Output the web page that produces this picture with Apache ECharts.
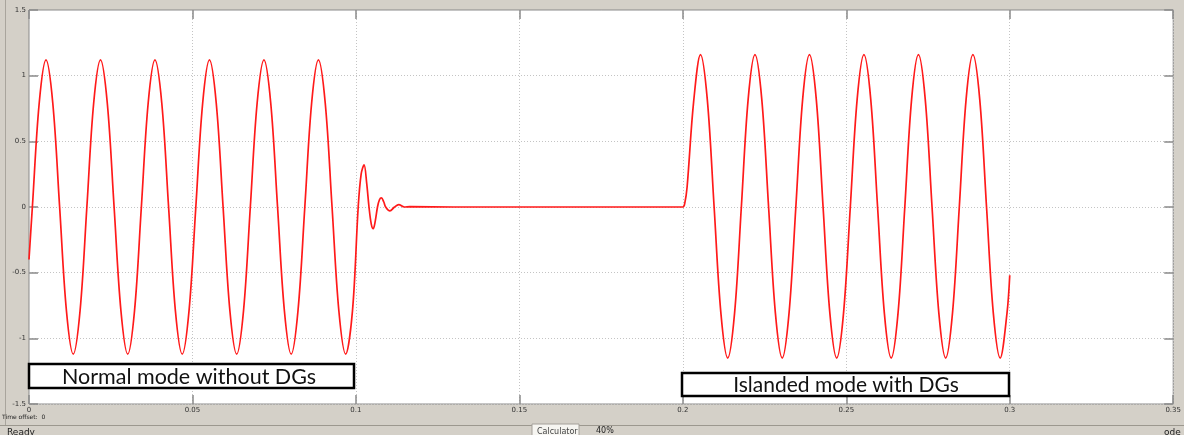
<!DOCTYPE html>
<html>
<head>
<meta charset="utf-8">
<script src="https://cdn.jsdelivr.net/npm/echarts@6/dist/echarts.min.js"></script>
<style>
  html, body { margin: 0; padding: 0; background: #d4d0c8; }
  #chart { width: 1184px; height: 435px; }
</style>
</head>
<body>
<div id="chart"></div>
<script>
// Axis tick labels
const xTickLabels = ['0', '0.05', '0.1', '0.15', '0.2', '0.25', '0.3', '0.35'];
const yTickLabels = ['-1.5', '-1', '-0.5', '0', '0.5', '1', '1.5'];

// Grid-connected operation (0 – 0.1 s): time [s] and per-unit value
const normalT = [0, 0.00103, 0.00312, 0.00520, 0.00728, 0.00937, 0.01145, 0.01353, 0.01562, 0.01770,
  0.01978, 0.02187, 0.02395, 0.02603, 0.02812, 0.03020, 0.03228, 0.03437, 0.03645, 0.03853,
  0.04062, 0.04270, 0.04478, 0.04687, 0.04895, 0.05103, 0.05312, 0.05520, 0.05728, 0.05937,
  0.06145, 0.06353, 0.06562, 0.06770, 0.06978, 0.07187, 0.07395, 0.07603, 0.07812, 0.08020,
  0.08228, 0.08437, 0.08645, 0.08853, 0.09062, 0.09270, 0.09478, 0.09687, 0.09895];
const normalV = [-0.40, 0, 0.79,
  1.12, 0.79, 0, -0.79, -1.12, -0.79, 0, 0.79,
  1.12, 0.79, 0, -0.79, -1.12, -0.79, 0, 0.79,
  1.12, 0.79, 0, -0.79, -1.12, -0.79, 0, 0.79,
  1.12, 0.79, 0, -0.79, -1.12, -0.79, 0, 0.79,
  1.12, 0.79, 0, -0.79, -1.12, -0.79, 0, 0.79,
  1.12, 0.79, 0, -0.79, -1.12, -0.79];

// Decaying ring-down after the grid disconnects
const transientT = [0.1007, 0.1016, 0.1025, 0.1033, 0.1040, 0.1047, 0.1053, 0.1059, 0.1066,
  0.1072, 0.1078, 0.1085, 0.1091, 0.1104, 0.1118, 0.1131, 0.1148, 0.1165];
const transientV = [0, 0.25, 0.32, 0.18, 0, -0.13, -0.165, -0.11, 0,
  0.055, 0.07, 0.04, 0, -0.03, 0, 0.018, 0, 0.003];

// Outage (no supply)
const outageT = [0.130, 0.160, 0.200];
const outageV = [0, 0, 0];

// Islanded operation supplied by the DGs (0.2 – 0.3 s)
const islandT = [0.2006, 0.2013, 0.2033,
  0.20540, 0.20748, 0.20957, 0.21165, 0.21373, 0.21582, 0.21790, 0.21998,
  0.22207, 0.22415, 0.22623, 0.22832, 0.23040, 0.23248, 0.23457, 0.23665,
  0.23873, 0.24082, 0.24290, 0.24498, 0.24707, 0.24915, 0.25123, 0.25332,
  0.25540, 0.25748, 0.25957, 0.26165, 0.26373, 0.26582, 0.26790, 0.26998,
  0.27207, 0.27415, 0.27623, 0.27832, 0.28040, 0.28248, 0.28457, 0.28665,
  0.28873, 0.29082, 0.29290, 0.29498, 0.29707, 0.29915, 0.3];
const islandV = [0.03, 0.15, 0.80,
  1.16, 0.82, 0, -0.81, -1.15, -0.81, 0, 0.82,
  1.16, 0.82, 0, -0.81, -1.15, -0.81, 0, 0.82,
  1.16, 0.82, 0, -0.81, -1.15, -0.81, 0, 0.82,
  1.16, 0.82, 0, -0.81, -1.15, -0.81, 0, 0.82,
  1.16, 0.82, 0, -0.81, -1.15, -0.81, 0, 0.82,
  1.16, 0.82, 0, -0.81, -1.15, -0.81, -0.52];

const modeLabels = ['Normal mode without DGs', 'Islanded mode with DGs'];

function zip(ts, vs) { return ts.map((t, i) => [t, vs[i]]); }
const trace = [].concat(
  zip(normalT, normalV), zip(transientT, transientV),
  zip(outageT, outageV), zip(islandT, islandV)
);

const chart = echarts.init(document.getElementById('chart'), null, { renderer: 'canvas' });

const tickStyle = { show: true, inside: true, length: 9, lineStyle: { color: '#8a8a8a', width: 1.5 } };
const gridLine = { show: true, lineStyle: { color: '#c4c4c4', width: 1, type: [1, 2] } };
const labelFont = { fontFamily: 'DejaVu Sans', fontSize: 7, color: '#333' };
const noLine = { show: false, onZero: false };

chart.setOption({
  animation: false,
  backgroundColor: '#d4d0c8',
  grid: {
    left: 29, right: 10, top: 10, bottom: 31,
    show: true, backgroundColor: '#ffffff', borderColor: '#8a8a8a', borderWidth: 1
  },
  xAxis: [{
    type: 'value', position: 'bottom', min: 0, max: 0.35, interval: 0.05,
    axisLine: noLine,
    axisTick: tickStyle,
    splitLine: gridLine,
    axisLabel: Object.assign({ margin: 3, formatter: (v, i) => xTickLabels[i] }, labelFont)
  }, {
    type: 'value', position: 'top', min: 0, max: 0.35, interval: 0.05,
    axisLine: noLine, axisTick: tickStyle, splitLine: { show: false },
    axisLabel: { show: false }
  }],
  yAxis: [{
    type: 'value', position: 'left', min: -1.5, max: 1.5, interval: 0.5,
    axisLine: noLine,
    axisTick: tickStyle,
    splitLine: gridLine,
    axisLabel: Object.assign({ margin: 3, formatter: (v, i) => yTickLabels[i] }, labelFont)
  }, {
    type: 'value', position: 'right', min: -1.5, max: 1.5, interval: 0.5,
    axisLine: noLine, axisTick: tickStyle, splitLine: { show: false },
    axisLabel: { show: false }
  }],
  series: [{
    type: 'line',
    data: trace,
    showSymbol: false,
    smooth: 0.35,
    lineStyle: { color: '#ff1a1a', width: 1.7 },
    z: 5
  }],
  graphic: [
    // window frame details
    { type: 'line', shape: { x1: 5.5, y1: 0, x2: 5.5, y2: 425 }, style: { stroke: '#a9a59d', lineWidth: 1 }, silent: true },
    { type: 'line', shape: { x1: 0, y1: 425.5, x2: 1184, y2: 425.5 }, style: { stroke: '#9c988f', lineWidth: 1 }, silent: true },
    { type: 'text', left: 2, top: 414, style: { text: 'Time offset:  0', font: '6px "DejaVu Sans"', fill: '#222' }, silent: true },
    { type: 'text', left: 7, top: 428, style: { text: 'Ready', font: '9px "DejaVu Sans"', fill: '#222' }, silent: true },
    { type: 'rect', shape: { x: 532, y: 424, width: 47, height: 14 }, style: { fill: '#f6f5f1', stroke: '#a4a09a', lineWidth: 1 }, silent: true },
    { type: 'text', left: 537, top: 428, style: { text: 'Calculator', font: '8px "DejaVu Sans"', fill: '#444' }, silent: true },
    { type: 'text', left: 596, top: 427, style: { text: '40%', font: '8px "DejaVu Sans"', fill: '#222' }, silent: true },
    { type: 'text', left: 1164, top: 428, style: { text: 'ode', font: '9px "DejaVu Sans"', fill: '#222' }, silent: true },
    // mode annotation boxes
    { type: 'rect', shape: { x: 29, y: 364, width: 325, height: 24 }, style: { fill: '#ffffff', stroke: '#000', lineWidth: 2.5 }, z: 10, silent: true },
    { type: 'text', x: 189, y: 377, style: { text: modeLabels[0], font: '21.5px Lato', fill: '#111', textAlign: 'center', textVerticalAlign: 'middle' }, z: 11, silent: true },
    { type: 'rect', shape: { x: 682, y: 373, width: 327, height: 23 }, style: { fill: '#ffffff', stroke: '#000', lineWidth: 2.5 }, z: 10, silent: true },
    { type: 'text', x: 846, y: 385, style: { text: modeLabels[1], font: '21px Lato', fill: '#111', textAlign: 'center', textVerticalAlign: 'middle' }, z: 11, silent: true }
  ]
});
</script>
</body>
</html>
